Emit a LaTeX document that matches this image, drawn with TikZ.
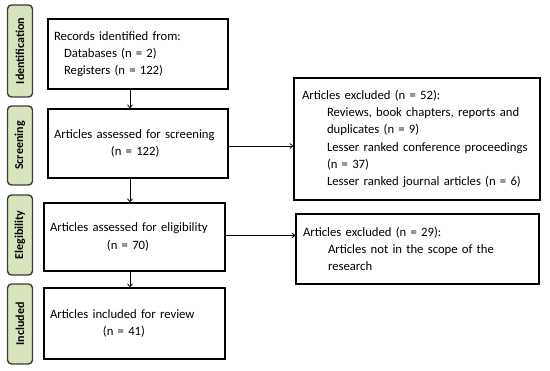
\documentclass[tikz,border=0pt]{standalone}
\usepackage{fontspec}
\setmainfont{Carlito}
\usepackage{xcolor}
\usepackage{tikz}
\usetikzlibrary{arrows.meta,calc,positioning}
\definecolor{stagefill}{RGB}{216,228,188}
\definecolor{stageline}{RGB}{60,60,60}

\begin{document}
\begin{tikzpicture}[x=1pt,y=-1pt,font=\fontsize{12.7}{17.3}\selectfont,>={Straight Barb[length=3pt,width=5pt]},
  box/.style={draw=black,line width=1.2pt,align=left,inner xsep=6pt,inner ysep=0pt},
  stage/.style={draw=stageline,line width=1.4pt,rounded corners=4pt,fill=stagefill,rotate=90,minimum height=25pt,inner sep=0pt,font=\fontsize{12}{14}\selectfont\bfseries},
  flow/.style={->,line width=0.8pt}]
\useasboundingbox (0,0) rectangle (550,371);

% ---------- stages down the left side ----------
\node[stage,minimum width=92pt] (sid) at (20,51) {Identification};
\node[stage,minimum width=79pt] (ssc) at (20,145.5) {Screening};
\node[stage,minimum width=80pt] (sel) at (20,235) {Elegibility};
\node[stage,minimum width=80pt] (sin) at (20,324) {Included};

% ---------- main column ----------
\node[box,text width=168pt,minimum height=70pt] (rec) at (138,54) {Records identified from:\\ \hspace*{10pt}Databases (n = 2)\\ \hspace*{10pt}Registers (n = 122)};
\node[box,text width=168pt,minimum height=69pt] (scr) at (138,143.5) {Articles assessed for screening\\ \hspace*{57pt}(n = 122)};
\node[box,text width=169pt,minimum height=68pt] (eli) at (134.5,237) {Articles assessed for eligibility\\ \hspace*{57pt}(n = 70)};
\node[box,text width=169pt,minimum height=71pt] (inc) at (134.5,323.5) {Articles included for review\\ \hspace*{53pt}(n = 41)};
\coordinate (spine) at (130,0);
\draw[flow] (rec.south -| spine) -- (scr.north -| spine);
\draw[flow] (scr.south -| spine) -- (eli.north -| spine);
\draw[flow] (eli.south -| spine) -- (inc.north -| spine);

% ---------- exclusions on the right ----------
\node[box,inner xsep=8pt,text width=230pt,minimum height=122pt] (ex1) at (417,139) {Articles excluded (n = 52):\\
  \hspace*{25pt}Reviews, book chapters, reports and\\ \hspace*{25pt}duplicates (n = 9)\\
  \hspace*{25pt}Lesser ranked conference proceedings\\ \hspace*{25pt}(n = 37)\\
  \hspace*{25pt}Lesser ranked journal articles (n = 6)};
\node[box,inner xsep=7pt,text width=229pt,minimum height=70pt] (ex2) at (417.5,249) {Articles excluded (n = 29):\\
  \hspace*{25pt}Articles not in the scope of the\\ \hspace*{25pt}research};
\draw[flow] ([yshift=-2.5pt]scr.east) -- ([yshift=-2.5pt]scr.east -| ex1.west);
\draw[flow] ([yshift=1.5pt]eli.east) -- ([yshift=1.5pt]eli.east -| ex2.west);
\end{tikzpicture}
\end{document}
